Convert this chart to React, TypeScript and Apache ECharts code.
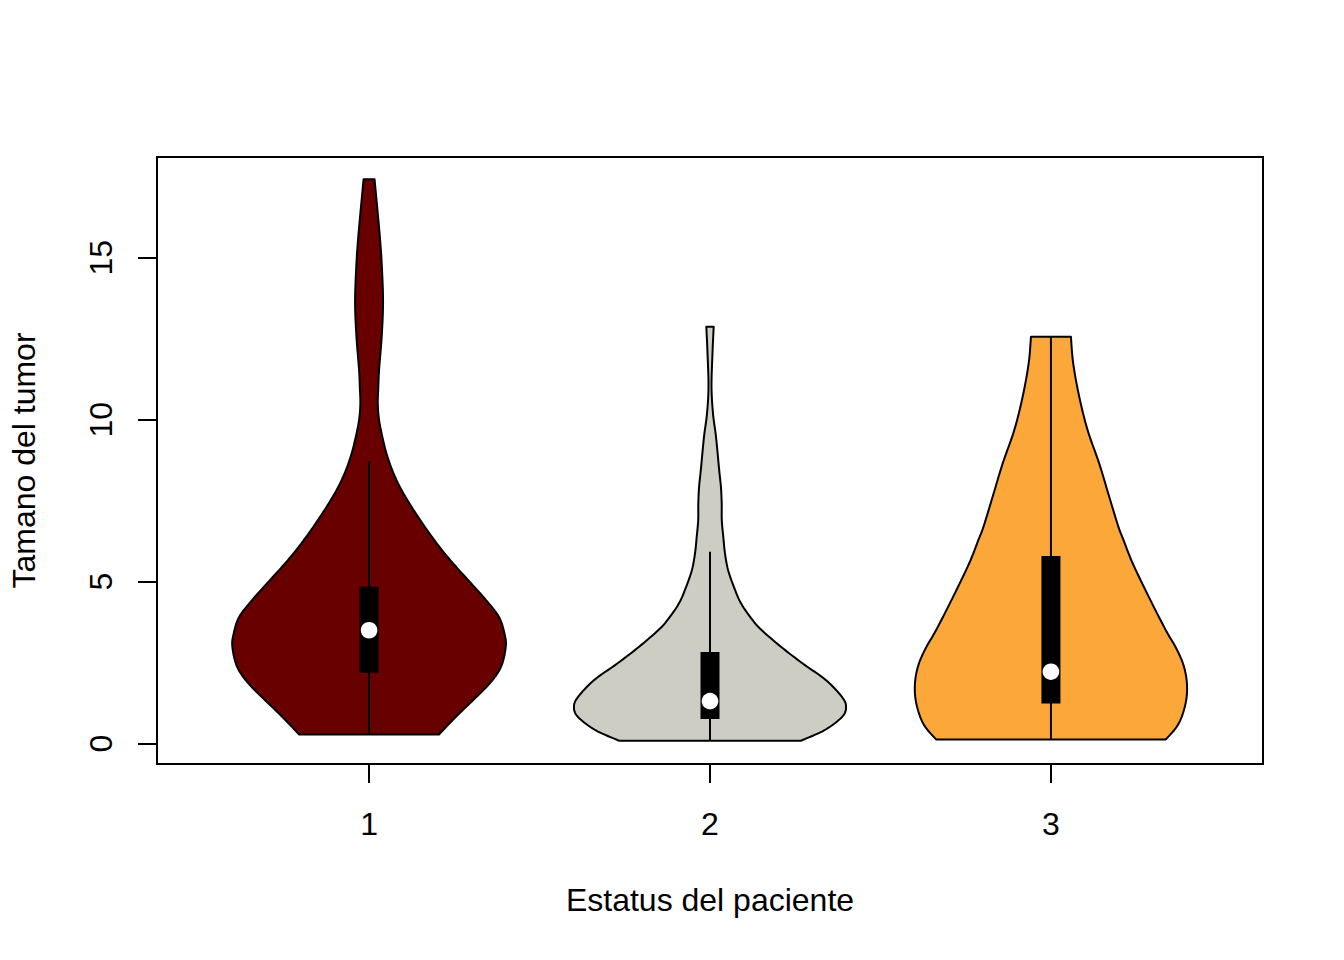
import React, { useEffect, useRef } from "react";
import * as echarts from "echarts";

// ---- data ----
const categories = ["1", "2", "3"];
const violinColors = ["#680000", "#CDCDC4", "#FBA73A"];

// violin 1: tumour size values and half-widths (x units)
const v1Y = [0.28, 0.83, 1.34, 1.86, 2.37, 2.99, 3.40, 3.91, 4.43, 4.95, 5.46, 5.97, 6.49, 6.90, 7.42, 7.93, 8.44, 8.96, 9.47, 9.99, 10.50, 11.02, 11.53, 12.56, 13.59, 14.62, 15.65, 17.42];
const v1W = [0.205, 0.255, 0.305, 0.354, 0.387, 0.401, 0.397, 0.381, 0.343, 0.299, 0.255, 0.214, 0.177, 0.150, 0.118, 0.090, 0.068, 0.051, 0.039, 0.0293, 0.0255, 0.0272, 0.0293, 0.037, 0.041, 0.038, 0.0316, 0.0161];

// violin 2
const v2Y = [0.086, 0.42, 0.83, 1.14, 1.44, 1.96, 2.48, 2.99, 3.50, 3.81, 4.33, 4.84, 5.36, 5.87, 6.38, 6.90, 7.42, 7.93, 8.44, 9.47, 10.19, 11.02, 12.05, 12.87];
const v2W = [0.266, 0.337, 0.388, 0.399, 0.387, 0.340, 0.271, 0.208, 0.152, 0.125, 0.091, 0.070, 0.053, 0.044, 0.039, 0.0346, 0.0343, 0.032, 0.027, 0.0176, 0.0088, 0.0044, 0.0073, 0.0108];

// violin 3
const v3Y = [0.13, 0.52, 0.93, 1.44, 1.96, 2.48, 2.99, 3.50, 4.53, 5.56, 6.28, 6.69, 7.62, 8.65, 9.68, 10.71, 11.74, 12.56];
const v3W = [0.337, 0.369, 0.387, 0.398, 0.398, 0.387, 0.365, 0.337, 0.287, 0.240, 0.213, 0.198, 0.171, 0.1415, 0.1075, 0.083, 0.0653, 0.0586];

const boxQ1 = [2.19, 0.76, 1.24];
const boxQ3 = [4.84, 2.83, 5.79];
const medians = [3.5, 1.31, 2.22];
const whiskerLow = [0.28, 0.086, 0.13];
const whiskerHigh = [8.72, 5.92, 12.56];

const xTicks = [1, 2, 3];
const yTicks = [0, 5, 10, 15];

const violinYs = [v1Y, v2Y, v3Y];
const violinWs = [v1W, v2W, v3W];

const FONT = "'Liberation Sans', Arial, Helvetica, sans-serif";

function catmull(pts: number[][], steps = 8): number[][] {
  const out: number[][] = [];
  const n = pts.length;
  for (let k = 0; k < n - 1; k++) {
    const p0 = pts[Math.max(0, k - 1)];
    const p1 = pts[k];
    const p2 = pts[k + 1];
    const p3 = pts[Math.min(n - 1, k + 2)];
    for (let s = 0; s < steps; s++) {
      const t = s / steps;
      const t2 = t * t;
      const t3 = t2 * t;
      const f = (a: number, b: number, c: number, d: number) =>
        0.5 * (2 * b + (-a + c) * t + (2 * a - 5 * b + 4 * c - d) * t2 + (-a + 3 * b - 3 * c + d) * t3);
      out.push([f(p0[0], p1[0], p2[0], p3[0]), f(p0[1], p1[1], p2[1], p3[1])]);
    }
  }
  out.push(pts[n - 1]);
  return out;
}

export default function App() {
  const ref = useRef<HTMLDivElement>(null);
  useEffect(() => {
    if (!ref.current) return;
    const chart = echarts.init(ref.current, null, { renderer: "svg" });
    const option: any = {
      animation: false,
      backgroundColor: "#ffffff",
      grid: {
        left: 157,
        right: 81,
        top: 157,
        bottom: 196,
        show: true,
        borderColor: "#000",
        borderWidth: 2,
        backgroundColor: "transparent",
      },
      xAxis: {
        type: "value",
        min: 0.378,
        max: 3.622,
        name: "Estatus del paciente",
        nameLocation: "middle",
        nameGap: 120,
        nameTextStyle: { fontFamily: FONT, fontSize: 32, color: "#000" },
        axisLine: { show: true, onZero: false, lineStyle: { color: "#000", width: 2 } },
        axisTick: { show: true, length: 19, customValues: xTicks, lineStyle: { color: "#000", width: 2 } },
        axisLabel: {
          show: true,
          customValues: xTicks,
          margin: 44,
          fontFamily: FONT,
          fontSize: 32,
          color: "#000",
          formatter: (v: number) => categories[Math.round(v) - 1] ?? String(v),
        },
        splitLine: { show: false },
      },
      yAxis: {
        type: "value",
        min: -0.63,
        max: 18.11,
        name: "Tamano del tumor",
        nameLocation: "middle",
        nameGap: 117,
        nameTextStyle: { fontFamily: FONT, fontSize: 32, color: "#000" },
        axisLine: { show: true, onZero: false, lineStyle: { color: "#000", width: 2 } },
        axisTick: { show: true, length: 19, customValues: yTicks, lineStyle: { color: "#000", width: 2 } },
        axisLabel: {
          show: true,
          customValues: yTicks,
          rotate: 90,
          margin: 40,
          fontFamily: FONT,
          fontSize: 32,
          color: "#000",
        },
        splitLine: { show: false },
      },
      series: [
        {
          type: "custom",
          data: categories.map((_, i) => [i + 1, medians[i]]),
          encode: { x: 0, y: 1 },
          renderItem: (params: any, api: any) => {
            const i = params.dataIndex;
            const c = i + 1;
            const ys = violinYs[i];
            const ws = violinWs[i];
            const right = ys.map((y, k) => api.coord([c + ws[k], y]));
            const left = ys.map((y, k) => api.coord([c - ws[k], y]));
            const pts = catmull(right).concat(catmull(left).reverse());
            const wLo = api.coord([c, whiskerLow[i]]);
            const wHi = api.coord([c, whiskerHigh[i]]);
            const q1 = api.coord([c, boxQ1[i]]);
            const q3 = api.coord([c, boxQ3[i]]);
            const med = api.coord([c, medians[i]]);
            const bw = 9.5;
            return {
              type: "group",
              children: [
                {
                  type: "polygon",
                  shape: { points: pts },
                  style: { fill: violinColors[i], stroke: "#000", lineWidth: 2, lineJoin: "round" },
                },
                {
                  type: "line",
                  shape: { x1: wLo[0], y1: wLo[1], x2: wHi[0], y2: wHi[1] },
                  style: { stroke: "#000", lineWidth: 2 },
                },
                {
                  type: "rect",
                  shape: { x: q3[0] - bw, y: q3[1], width: bw * 2, height: q1[1] - q3[1] },
                  style: { fill: "#000" },
                },
                {
                  type: "circle",
                  shape: { cx: med[0], cy: med[1], r: 8.3 },
                  style: { fill: "#fff" },
                },
              ],
            };
          },
        },
      ],
    };
    chart.setOption(option);
    return () => chart.dispose();
  }, []);
  return (
    <div
      ref={ref}
      style={{ position: "fixed", left: 0, top: 0, width: 1344, height: 960, background: "#fff" }}
    />
  );
}
